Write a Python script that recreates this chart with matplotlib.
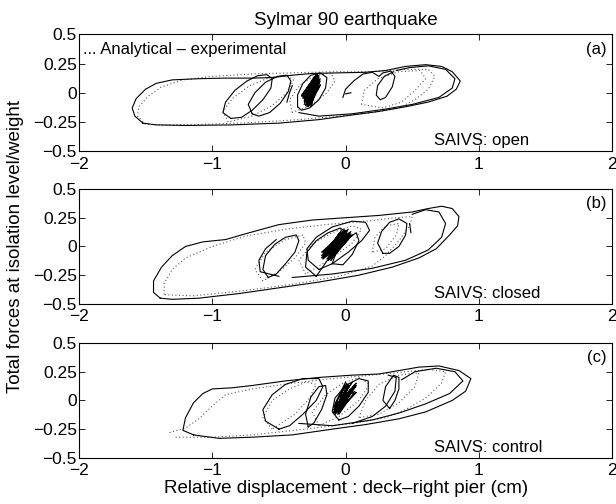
import matplotlib
matplotlib.use("Agg")
import matplotlib.pyplot as plt
import numpy as np

plt.rcParams['font.family'] = ['Liberation Sans', 'DejaVu Sans']
plt.rcParams['font.size'] = 12

# ---- SAIVS open: analytical (solid) loops
open_model = [
    [(-1.52, -0.26), (-1.58, -0.2), (-1.6, -0.13), (-1.57, -0.05), (-1.5, 0.03), (-1.42, 0.08),
     (-1.3, 0.11), (-1.1, 0.12), (-0.9, 0.125), (-0.7, 0.125), (-0.55, 0.13), (-0.4, 0.15),
     (-0.25, 0.165), (-0.05, 0.17), (0.15, 0.175), (0.3, 0.19), (0.45, 0.225), (0.6, 0.24),
     (0.72, 0.225), (0.8, 0.18), (0.86, 0.1), (0.83, 0.03), (0.76, -0.03), (0.62, -0.08),
     (0.45, -0.12), (0.25, -0.16), (0.05, -0.19), (-0.2, -0.23), (-0.5, -0.26), (-0.85, -0.275),
     (-1.2, -0.28), (-1.42, -0.275), (-1.52, -0.26)],
    [(-0.35, -0.17), (-0.2, -0.2), (0.05, -0.18), (0.3, -0.14), (0.5, -0.1), (0.7, -0.04),
     (0.8, 0.04), (0.82, 0.12), (0.75, 0.2), (0.62, 0.23), (0.48, 0.215), (0.38, 0.19)],
    [(-0.02, -0.04), (0.0, 0.03), (0.06, 0.1), (0.13, 0.16), (0.2, 0.175), (0.25, 0.14),
     (0.28, 0.17), (0.34, 0.185), (0.37, 0.14), (0.35, 0.05), (0.3, -0.04), (0.26, -0.06),
     (0.23, -0.02), (0.24, 0.06), (0.29, 0.14), (0.36, 0.18)],
    [(0.0, -0.01), (0.04, 0.0)],
    [(-0.86, -0.22), (-0.92, -0.17), (-0.9, -0.08), (-0.83, 0.02), (-0.74, 0.1), (-0.66, 0.145),
     (-0.59, 0.155), (-0.55, 0.12), (-0.56, 0.04), (-0.62, -0.06), (-0.7, -0.15), (-0.78, -0.21),
     (-0.86, -0.22)],
    [(-0.7, -0.18), (-0.73, -0.1), (-0.68, 0.0), (-0.6, 0.09), (-0.51, 0.14), (-0.44, 0.15),
     (-0.41, 0.1), (-0.43, 0.01), (-0.49, -0.09), (-0.57, -0.17), (-0.65, -0.2), (-0.7, -0.18)],
    [(-0.44, -0.08), (-0.42, 0.0), (-0.4, 0.06)],
    [(-0.36, -0.12), (-0.36, -0.02), (-0.32, 0.08), (-0.26, 0.15), (-0.19, 0.17), (-0.14, 0.13),
     (-0.15, 0.04), (-0.2, -0.06), (-0.27, -0.13), (-0.33, -0.15), (-0.36, -0.12)],
]
open_blob_x = [-0.31, -0.21, -0.29, -0.2, -0.3, -0.23, -0.32, -0.21, -0.28, -0.19, -0.31, -0.24, -0.29, -0.2,
               -0.33, -0.22, -0.27, -0.21, -0.3, -0.2, -0.28, -0.23, -0.32, -0.19, -0.29, -0.22, -0.3, -0.21,
               -0.26, -0.2, -0.31, -0.25, -0.28, -0.19, -0.32, -0.24, -0.27, -0.21, -0.3, -0.22, -0.29, -0.25,
               -0.33, -0.2, -0.28, -0.23, -0.31, -0.21, -0.26, -0.19]
open_blob_y = [-0.1, 0.12, -0.05, 0.15, -0.11, 0.07, -0.03, 0.16, -0.12, 0.1, -0.07, 0.13, -0.09, 0.04,
               -0.02, 0.15, -0.1, 0.11, -0.06, 0.08, -0.11, 0.14, -0.04, 0.06, -0.08, 0.16, -0.05, 0.09,
               -0.12, 0.13, -0.08, 0.02, -0.1, 0.12, -0.05, 0.1, -0.11, 0.15, -0.07, 0.05, -0.12, 0.11,
               -0.03, 0.14, -0.09, 0.08, -0.06, 0.16, -0.1, 0.07]
# ---- SAIVS open: experimental (dotted) loops
open_test = [
    [(-1.5, -0.27), (-1.56, -0.2), (-1.55, -0.12), (-1.48, -0.03), (-1.38, 0.05), (-1.22, 0.11),
     (-1.0, 0.14), (-0.7, 0.16), (-0.4, 0.17), (-0.1, 0.18), (0.2, 0.18), (0.45, 0.2), (0.62, 0.2),
     (0.67, 0.14), (0.62, 0.03), (0.52, -0.06), (0.4, -0.13), (0.2, -0.17), (-0.05, -0.2),
     (-0.35, -0.23), (-0.7, -0.255), (-1.05, -0.27), (-1.35, -0.275), (-1.5, -0.27)],
    [(-0.88, -0.25), (-0.92, -0.16), (-0.85, -0.05), (-0.72, 0.06), (-0.57, 0.13), (-0.45, 0.15),
     (-0.39, 0.11), (-0.44, 0.0), (-0.55, -0.11), (-0.7, -0.2), (-0.88, -0.25)],
    [(-0.4, -0.17), (-0.42, -0.06), (-0.34, 0.07), (-0.22, 0.15), (-0.11, 0.17), (-0.08, 0.1),
     (-0.14, 0.0), (-0.25, -0.1), (-0.4, -0.17)],
    [(0.12, -0.1), (0.14, 0.02), (0.24, 0.12), (0.4, 0.18), (0.56, 0.19), (0.6, 0.12), (0.52, 0.02),
     (0.42, -0.08), (0.28, -0.13), (0.12, -0.1)],
]

# ---- SAIVS closed
closed_model = [
    [(-1.39, -0.45), (-1.44, -0.4), (-1.44, -0.3), (-1.38, -0.18), (-1.3, -0.08), (-1.2, 0.0),
     (-1.07, 0.04), (-0.9, 0.06), (-0.72, 0.12), (-0.5, 0.19), (-0.25, 0.23), (0.0, 0.25),
     (0.25, 0.27), (0.5, 0.3), (0.62, 0.33), (0.72, 0.35), (0.8, 0.33), (0.85, 0.26), (0.84, 0.18),
     (0.78, 0.1), (0.68, -0.02), (0.55, -0.1), (0.35, -0.18), (0.1, -0.25), (-0.2, -0.31),
     (-0.5, -0.36), (-0.8, -0.41), (-1.1, -0.45), (-1.3, -0.46), (-1.39, -0.45)],
    [(-0.4, -0.27), (-0.1, -0.24), (0.2, -0.19), (0.45, -0.12), (0.62, -0.03), (0.72, 0.08),
     (0.75, 0.2), (0.7, 0.3), (0.6, 0.32), (0.5, 0.28)],
    [(0.28, -0.06), (0.24, 0.03), (0.27, 0.13), (0.33, 0.21), (0.4, 0.24), (0.46, 0.2), (0.45, 0.1),
     (0.4, 0.0), (0.33, -0.06), (0.28, -0.06)],
    [(0.48, 0.2), (0.49, 0.12)],
    [(-0.58, -0.27), (-0.62, -0.2), (-0.6, -0.08), (-0.53, 0.02), (-0.45, 0.08), (-0.37, 0.1),
     (-0.35, 0.05), (-0.38, -0.05), (-0.45, -0.15), (-0.52, -0.24), (-0.58, -0.27)],
    [(-0.5, -0.26), (-0.64, -0.22), (-0.65, -0.12), (-0.6, -0.02), (-0.52, 0.06)],
    [(-0.22, -0.26), (-0.3, -0.18), (-0.29, -0.05), (-0.22, 0.05), (-0.13, 0.12), (-0.04, 0.16),
     (0.0, 0.13), (-0.03, 0.04), (-0.1, -0.06), (-0.16, -0.16), (-0.22, -0.26)],
    [(-0.2, -0.2), (-0.28, -0.12), (-0.29, -0.02), (-0.22, 0.08), (-0.1, 0.17), (0.05, 0.22),
     (0.15, 0.21), (0.18, 0.14), (0.12, 0.05), (0.02, -0.05), (-0.1, -0.15), (-0.2, -0.2)],
    [(-0.1, -0.15), (-0.07, -0.05), (0.0, 0.05), (0.08, 0.12), (0.1, 0.05), (0.05, -0.07),
     (-0.02, -0.16), (-0.1, -0.15)],
]
closed_blob_x = [-0.17, -0.02, -0.15, 0.03, -0.12, 0.0, -0.18, -0.04, -0.13, 0.05, -0.16, -0.01, -0.1,
                 0.02, -0.17, -0.05, -0.14, 0.04, -0.11, -0.02, -0.16, 0.01, -0.12, 0.03, -0.18, -0.03,
                 -0.15, 0.04, -0.13, -0.01, -0.17, 0.02, -0.1, 0.05, -0.14, 0.0, -0.16, 0.03, -0.12,
                 -0.04, -0.18, 0.01, -0.11, 0.04]
closed_blob_y = [-0.1, 0.08, -0.06, 0.12, -0.11, 0.14, -0.05, 0.03, -0.12, 0.1, -0.08, 0.15, -0.07,
                 0.06, -0.11, 0.11, -0.04, 0.13, -0.12, 0.05, -0.09, 0.12, -0.06, 0.09, -0.1, 0.14,
                 -0.07, 0.11, -0.12, 0.07, -0.05, 0.15, -0.09, 0.1, -0.11, 0.13, -0.06, 0.08, -0.1,
                 0.12, -0.08, 0.14, -0.12, 0.09]
closed_test = [
    [(-1.36, -0.42), (-1.36, -0.32), (-1.3, -0.2), (-1.2, -0.1), (-1.0, 0.0), (-0.75, 0.09),
     (-0.45, 0.15), (-0.15, 0.19), (0.15, 0.22), (0.38, 0.25), (0.5, 0.26), (0.48, 0.18),
     (0.4, 0.05), (0.3, -0.08), (0.2, -0.17), (-0.05, -0.26), (-0.4, -0.33), (-0.8, -0.39),
     (-1.15, -0.43), (-1.36, -0.42)],
    [(-0.62, -0.3), (-0.68, -0.2), (-0.6, -0.05), (-0.45, 0.06), (-0.32, 0.1), (-0.3, 0.03),
     (-0.38, -0.1), (-0.5, -0.22), (-0.62, -0.3)],
    [(-0.3, -0.24), (-0.35, -0.12), (-0.25, 0.02), (-0.1, 0.12), (0.05, 0.18), (0.12, 0.15),
     (0.05, 0.03), (-0.1, -0.1), (-0.3, -0.24)],
    [(0.2, -0.05), (0.22, 0.08), (0.3, 0.18), (0.4, 0.2), (0.38, 0.1), (0.3, -0.02), (0.2, -0.05)],
]

# ---- SAIVS control
control_model = [
    [(-1.14, -0.3), (-1.22, -0.26), (-1.2, -0.15), (-1.14, -0.02), (-1.07, 0.06), (-1.0, 0.1),
     (-0.85, 0.11), (-0.7, 0.13), (-0.45, 0.17), (-0.2, 0.2), (0.05, 0.22), (0.25, 0.23),
     (0.4, 0.26), (0.55, 0.29), (0.7, 0.3), (0.85, 0.26), (0.94, 0.19), (0.9, 0.08), (0.8, 0.0),
     (0.6, -0.1), (0.4, -0.16), (0.15, -0.21), (-0.1, -0.25), (-0.4, -0.3), (-0.7, -0.32),
     (-0.95, -0.33), (-1.14, -0.3)],
    [(-0.35, -0.2), (-0.1, -0.22), (0.2, -0.17), (0.4, -0.11), (0.6, -0.03), (0.78, 0.06),
     (0.88, 0.17), (0.82, 0.25), (0.68, 0.28), (0.52, 0.25), (0.42, 0.18)],
    [(0.33, -0.07), (0.28, 0.0), (0.3, 0.12), (0.36, 0.22), (0.4, 0.2), (0.4, 0.1), (0.37, 0.0),
     (0.33, -0.07)],
    [(-0.5, -0.25), (-0.6, -0.18), (-0.62, -0.08), (-0.55, 0.05), (-0.45, 0.14), (-0.32, 0.19),
     (-0.2, 0.19), (-0.17, 0.12), (-0.22, 0.0), (-0.32, -0.12), (-0.42, -0.22), (-0.5, -0.25)],
    [(-0.28, -0.23), (-0.3, -0.12), (-0.26, 0.03), (-0.2, 0.12), (-0.15, 0.13), (-0.14, 0.05),
     (-0.18, -0.08), (-0.24, -0.2), (-0.28, -0.23)],
    [(-0.05, -0.17), (-0.1, -0.1), (-0.08, 0.02), (0.0, 0.13), (0.1, 0.19), (0.17, 0.17),
     (0.17, 0.07), (0.1, -0.05), (0.02, -0.14), (-0.05, -0.17)],
    [(0.05, -0.2), (0.2, -0.14), (0.3, -0.05), (0.37, 0.08), (0.38, 0.2), (0.32, 0.22)],
]
control_blob_x = [-0.08, 0.04, -0.06, 0.08, -0.09, 0.02, -0.05, 0.07, -0.08, 0.0, -0.07, 0.06,
                  -0.09, 0.03, -0.04, 0.08, -0.08, 0.01, -0.06, 0.05, -0.09, 0.04, -0.05, 0.02,
                  -0.07, 0.07, -0.08, 0.03, -0.06, 0.06, -0.09, 0.01, -0.05, 0.08, -0.07, 0.02]
control_blob_y = [-0.12, 0.1, -0.06, 0.15, -0.1, 0.14, -0.12, 0.08, -0.03, 0.16, -0.09, 0.12,
                  -0.11, 0.05, -0.07, 0.13, -0.12, 0.1, -0.04, 0.16, -0.08, 0.06, -0.11, 0.12,
                  -0.05, 0.14, -0.1, 0.09, -0.12, 0.11, -0.06, 0.15, -0.09, 0.07, -0.11, 0.13]
control_test = [
    [(-1.32, -0.28), (-1.2, -0.24), (-1.1, -0.16), (-1.0, -0.05), (-0.9, 0.05), (-0.7, 0.1),
     (-0.4, 0.15), (-0.1, 0.19), (0.2, 0.22), (0.45, 0.25), (0.62, 0.27), (0.75, 0.25),
     (0.72, 0.15), (0.6, 0.02), (0.45, -0.08), (0.3, -0.15), (0.05, -0.2), (-0.3, -0.25),
     (-0.7, -0.3), (-1.0, -0.32), (-1.29, -0.32)],
    [(-0.55, -0.25), (-0.62, -0.15), (-0.55, 0.0), (-0.42, 0.1), (-0.3, 0.16), (-0.22, 0.14),
     (-0.27, 0.02), (-0.38, -0.12), (-0.55, -0.25)],
    [(-0.2, -0.22), (-0.25, -0.1), (-0.15, 0.05), (-0.02, 0.15), (0.1, 0.2), (0.18, 0.14),
     (0.1, 0.0), (-0.05, -0.14), (-0.2, -0.22)],
    [(0.1, -0.15), (0.15, 0.0), (0.25, 0.14), (0.4, 0.22), (0.55, 0.24), (0.52, 0.12),
     (0.4, -0.02), (0.25, -0.12), (0.1, -0.15)],
]

panel_tags = ['(a)', '(b)', '(c)']
panel_states = ['SAIVS: open', 'SAIVS: closed', 'SAIVS: control']
x_ticks = [-2, -1, 0, 1, 2]
y_ticks = [-0.5, -0.25, 0, 0.25, 0.5]
y_ticklabels = ['\u22120.5', '\u22120.25', '0', '0.25', '0.5']
x_ticklabels = ['\u22122', '\u22121', '0', '1', '2']

panels = [
    (open_model, open_blob_x, open_blob_y, open_test),
    (closed_model, closed_blob_x, closed_blob_y, closed_test),
    (control_model, control_blob_x, control_blob_y, control_test),
]

fig = plt.figure(figsize=(6.16, 5.04), dpi=100)
# axes boxes in figure fractions: [left, bottom, width, height]
boxes = [[0.128, 0.700, 0.866, 0.232],
         [0.128, 0.397, 0.866, 0.228],
         [0.128, 0.0915, 0.866, 0.228]]

axes = []
for i, (model, bx, by, test) in enumerate(panels):
    ax = fig.add_axes(boxes[i])
    axes.append(ax)
    for loop in test:
        xs, ys = zip(*loop)
        ax.plot(xs, ys, color='0.35', linestyle=(0, (1, 2.2)), linewidth=0.8)
    for loop in model:
        xs, ys = zip(*loop)
        ax.plot(xs, ys, color='black', linewidth=0.8)
    ax.plot(bx, by, color='black', linewidth=0.8)

    ax.set_xlim(-2, 2)
    ax.set_ylim(-0.5, 0.5)
    ax.set_xticks(x_ticks)
    ax.set_xticklabels(x_ticklabels)
    ax.set_yticks(y_ticks)
    ax.set_yticklabels(y_ticklabels)
    ax.tick_params(direction='in', top=True, right=True, length=4, width=0.6,
                   labelsize=12.5, pad=1.5)
    ax.tick_params(axis='x', pad=4)
    for s in ax.spines.values():
        s.set_linewidth(0.8)

    ax.text(1.96, 0.37, panel_tags[i], ha='right', va='center', fontsize=12)
    ax.text(0.66, -0.41, panel_states[i], ha='left', va='center', fontsize=12)

axes[0].text(-1.97, 0.37, '... Analytical \u2013 experimental', ha='left', va='center', fontsize=12)
axes[0].set_title('Sylmar 90 earthquake', fontsize=13.5, pad=7)
axes[2].set_xlabel('Relative displacement : deck\u2013right pier (cm)', fontsize=13.5, labelpad=1)
fig.text(0.025, 0.51, 'Total forces at isolation level/weight', rotation=90,
         ha='center', va='center', fontsize=13.5)

fig.savefig('out.png', dpi=100)
